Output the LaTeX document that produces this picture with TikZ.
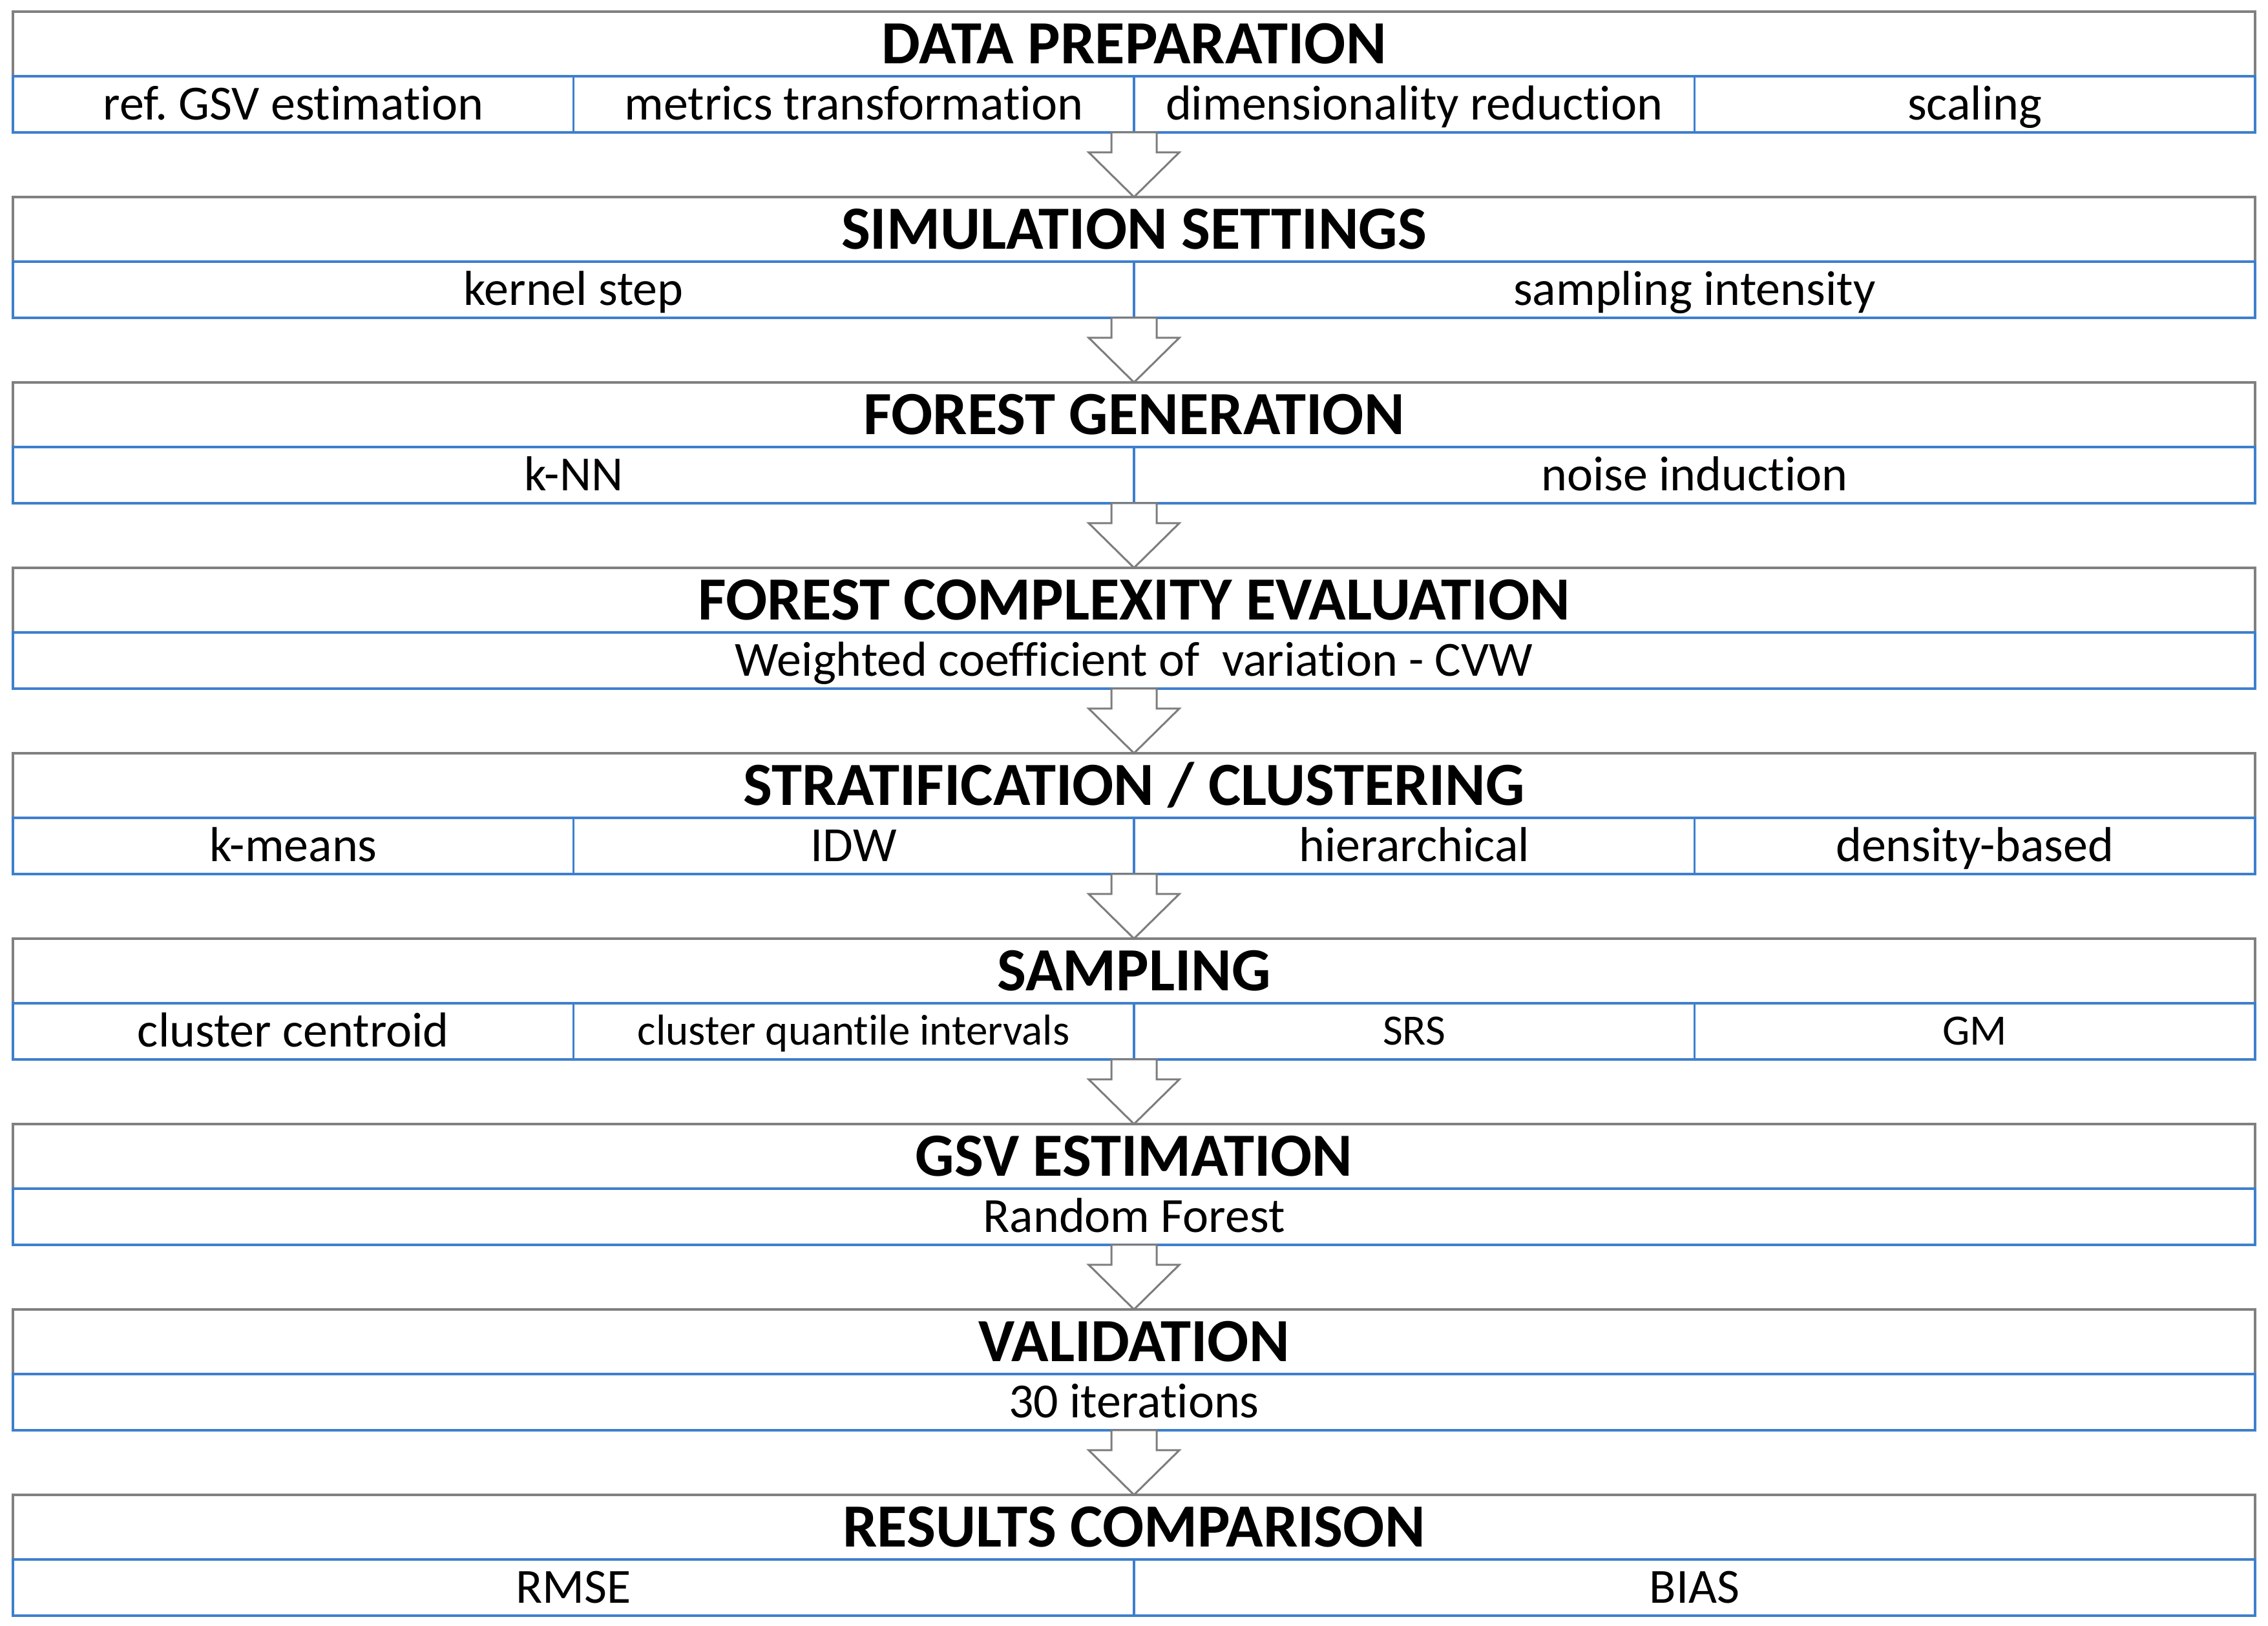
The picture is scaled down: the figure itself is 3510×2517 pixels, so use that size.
\documentclass[tikz,border=0pt]{standalone}
\usepackage{fontspec}
\setmainfont{Carlito}[Ligatures=NoCommon]
\usetikzlibrary{positioning,calc}
\frenchspacing

\definecolor{boxgray}{RGB}{128,128,128}
\definecolor{cellblue}{RGB}{62,127,205}
\definecolor{arrowgray}{RGB}{125,125,125}

\tikzset{
  stagebox/.style={draw=boxgray, line width=0.4pt, minimum width=347pt, minimum height=10pt,
    inner sep=0pt, outer sep=0pt, text height=8pt, text depth=1.9pt,
    font=\bfseries\fontsize{9.5}{11}\selectfont},
  cellbox/.style={draw=cellblue, line width=0.35pt, minimum height=8.7pt,
    inner sep=0pt, outer sep=0pt, text height=6.4pt, text depth=1.5pt,
    font=\fontsize{7.6}{9}\selectfont},
  cellfour/.style={cellbox, minimum width=86.75pt},
  celltwo/.style={cellbox, minimum width=173.5pt},
  cellone/.style={cellbox, minimum width=347pt},
  smalltext/.style={text height=5.6pt, text depth=1.3pt, font=\fontsize{6.7}{8}\selectfont},
  flowarrow/.style={draw=arrowgray, fill=white, line width=0.3pt, line join=miter},
}

\begin{document}
\begin{tikzpicture}[x=0.1pt,y=-0.1pt]
    \useasboundingbox (0,0) rectangle (3510,2517);

    % data preparation
    \node[stagebox] (prep) at (1755,68) {DATA PREPARATION};
    \node[cellfour, anchor=north west] (prepa) at (prep.south west) {ref. GSV estimation};
    \node[cellfour, right=0pt of prepa] (prepb) {metrics transformation};
    \node[cellfour, right=0pt of prepb] (prepc) {dimensionality reduction};
    \node[cellfour, right=0pt of prepc] (prepd) {scaling};

    % simulation settings
    \node[stagebox] (sim) at (1755,355) {SIMULATION SETTINGS};
    \node[celltwo, anchor=north west] (sima) at (sim.south west) {kernel step};
    \node[celltwo, right=0pt of sima] (simb) {sampling intensity};

    % forest generation
    \node[stagebox] (gen) at (1755,642) {FOREST GENERATION};
    \node[celltwo, anchor=north west] (gena) at (gen.south west) {k-NN};
    \node[celltwo, right=0pt of gena] (genb) {noise induction};

    % forest complexity
    \node[stagebox] (cplx) at (1755,929) {FOREST COMPLEXITY EVALUATION};
    \node[cellone, anchor=north west] (cplxa) at (cplx.south west) {Weighted coefficient of~ variation - CVW};

    % stratification
    \node[stagebox] (strat) at (1755,1216) {STRATIFICATION / CLUSTERING};
    \node[cellfour, anchor=north west] (strata) at (strat.south west) {k-means};
    \node[cellfour, right=0pt of strata] (stratb) {IDW};
    \node[cellfour, right=0pt of stratb] (stratc) {hierarchical};
    \node[cellfour, right=0pt of stratc] (stratd) {density-based};

    % sampling
    \node[stagebox] (samp) at (1755,1503) {SAMPLING};
    \node[cellfour, anchor=north west] (sampa) at (samp.south west) {cluster centroid};
    \node[cellfour, smalltext, right=0pt of sampa] (sampb) {cluster quantile intervals};
    \node[cellfour, smalltext, right=0pt of sampb] (sampc) {SRS};
    \node[cellfour, smalltext, right=0pt of sampc] (sampd) {GM};

    % gsv estimation
    \node[stagebox] (gsv) at (1755,1790) {GSV ESTIMATION};
    \node[cellone, anchor=north west] (gsva) at (gsv.south west) {Random Forest};

    % validation
    \node[stagebox] (valid) at (1755,2077) {VALIDATION};
    \node[cellone, anchor=north west] (valida) at (valid.south west) {30 iterations};

    % results
    \node[stagebox] (res) at (1755,2364) {RESULTS COMPARISON};
    \node[celltwo, anchor=north west] (resa) at (res.south west) {RMSE};
    \node[celltwo, right=0pt of resa] (resb) {BIAS};

    % block arrows between stages
    \foreach \a/\b in {prep/sim, sim/gen, gen/cplx, cplx/strat, strat/samp, samp/gsv, gsv/valid, valid/res}
      \draw[flowarrow] ([xshift=-3.5pt,yshift=-8.7pt]\a.south) -- ++(0pt,-3.1pt) -- ++(-3.5pt,0pt)
        -- (\b.north) -- ++(7pt,6.9pt) -- ++(-3.5pt,0pt)
        -- ([xshift=3.5pt,yshift=-8.7pt]\a.south) -- cycle;
\end{tikzpicture}
\end{document}
